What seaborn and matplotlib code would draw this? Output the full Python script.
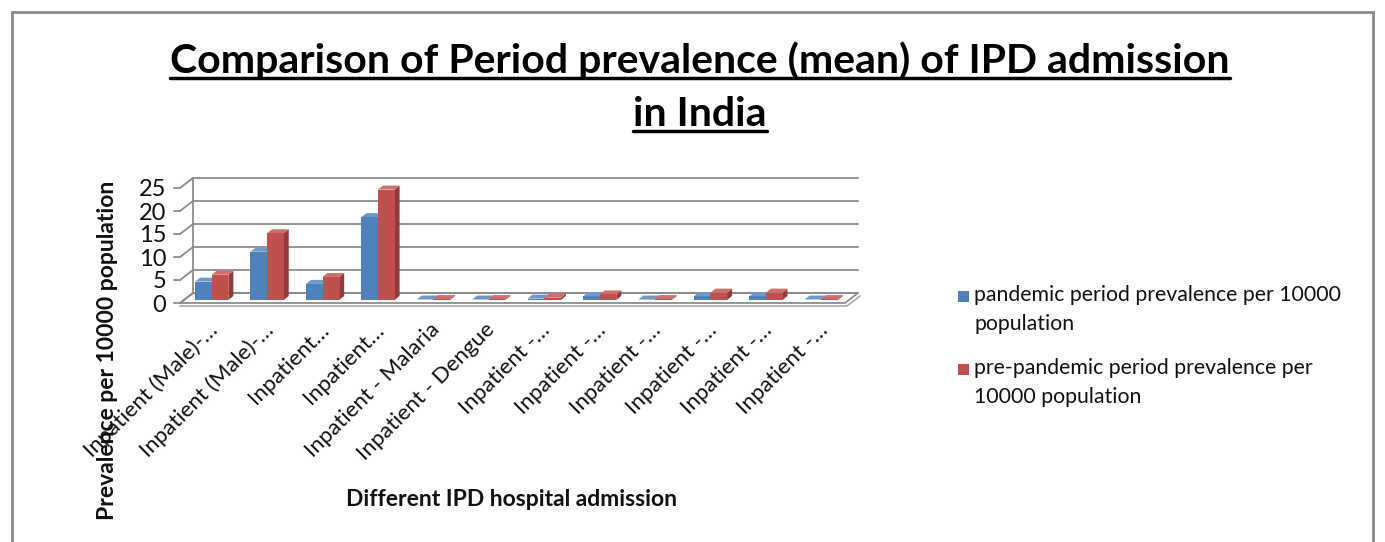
import numpy as np
import pandas as pd
import matplotlib
matplotlib.use("Agg")
import matplotlib.pyplot as plt
import seaborn as sns
from matplotlib.patches import Polygon, Rectangle
from matplotlib.lines import Line2D

categories = ["Inpatient (Male)-…", "Inpatient (Male)- …", "Inpatient…", "Inpatient …",
              "Inpatient - Malaria", "Inpatient - Dengue", "Inpatient -…", "Inpatient - …",
              "Inpatient  -…", "Inpatient  - …", "Inpatient   -…", "Inpatient   - …"]
tick_labels = ["Inpatient (Male)-…", "Inpatient (Male)-…", "Inpatient…", "Inpatient…",
               "Inpatient - Malaria", "Inpatient - Dengue", "Inpatient -…", "Inpatient -…",
               "Inpatient -…", "Inpatient -…", "Inpatient -…", "Inpatient -…"]
pandemic = [4.0, 10.5, 3.5, 18.0, 0.1, 0.1, 0.3, 0.8, 0.1, 0.8, 0.8, 0.1]
prepandemic = [5.5, 14.5, 5.0, 24.0, 0.2, 0.2, 0.5, 1.2, 0.2, 1.6, 1.6, 0.2]
series = ["pandemic period prevalence per 10000\npopulation",
          "pre-pandemic period prevalence per\n10000 population"]
yticks = [0, 5, 10, 15, 20, 25]

colors = ["#4F81BD", "#C0504D"]
side_colors = ["#3B6699", "#943A38"]
top_colors = ["#6E98CC", "#D06E6B"]
txt = "#111111"

df = pd.DataFrame({
    "category": categories * 2,
    "value": pandemic + prepandemic,
    "series": [series[0]] * len(categories) + [series[1]] * len(categories),
})

sns.set_style("white")
plt.rcParams["font.family"] = ["Lato", "DejaVu Sans"]

W, H = 1385, 542
fig = plt.figure(figsize=(W / 100, H / 100), dpi=100)
ax_left, ax_right, ax_bottom, ax_top = 180, 845, 303, 188
ax = fig.add_axes([ax_left / W, 1 - ax_bottom / H, (ax_right - ax_left) / W, (ax_bottom - ax_top) / H])

sns.barplot(data=df, x="category", y="value", hue="series", palette=colors,
            width=0.6, dodge=True, saturation=1, ax=ax, legend=False, errorbar=None)
ax.set_xlim(-0.5, len(categories) - 0.5)
ax.set_ylim(0, 25)

xpp = (len(categories)) / (ax_right - ax_left)
ypp = 25.0 / (ax_bottom - ax_top)

wall_dx, wall_dy = 13, 10
bar_dx, bar_dy = 5, 4
front_dx, front_dy = 4, 3

gc = "#8C8C8C"
x0, x1 = -0.5, len(categories) - 0.5
for t in yticks:
    ax.add_line(Line2D([x0, x0 + wall_dx * xpp], [t, t + wall_dy * ypp],
                       color=gc, lw=1.3, clip_on=False))
    ax.add_line(Line2D([x0 + wall_dx * xpp, x1 + wall_dx * xpp], [t + wall_dy * ypp] * 2,
                       color=gc, lw=1.3, clip_on=False))
    ax.add_line(Line2D([x0 - 6 * xpp, x0], [t, t], color=gc, lw=1.3, clip_on=False))
ax.add_line(Line2D([x0 + wall_dx * xpp] * 2, [wall_dy * ypp, 25 + wall_dy * ypp],
                   color=gc, lw=1.3, clip_on=False))
floor = Polygon([(x0, 0), (x1, 0), (x1 + wall_dx * xpp, wall_dy * ypp),
                 (x0 + wall_dx * xpp, wall_dy * ypp)], closed=True, fill=False,
                edgecolor=gc, lw=1.3, clip_on=False)
ax.add_patch(floor)
ax.add_line(Line2D([x0, x1 + 2 * xpp, x1 + (wall_dx + 2) * xpp],
                   [-3 * ypp, -3 * ypp, (wall_dy - 3) * ypp], color="#B0B0B0", lw=1.3, clip_on=False))

for ci, cont in enumerate(ax.containers):
    for p in cont.patches:
        x, w, h = p.get_x(), p.get_width(), p.get_height()
        fx, fy = front_dx * xpp, front_dy * ypp
        p.set_x(x + fx)
        p.set_y(fy)
        p.set_edgecolor("none")
        p.set_zorder(3)
        bx, by = bar_dx * xpp, bar_dy * ypp
        xl, xr, yt = x + fx, x + fx + w, fy + h
        side = Polygon([(xr, fy), (xr + bx, fy + by), (xr + bx, yt + by), (xr, yt)],
                       closed=True, facecolor=side_colors[ci], edgecolor="none", zorder=2.9,
                       clip_on=False)
        top = Polygon([(xl, yt), (xr, yt), (xr + bx, yt + by), (xl + bx, yt + by)],
                      closed=True, facecolor=top_colors[ci], edgecolor="none", zorder=2.9,
                      clip_on=False)
        ax.add_patch(side)
        ax.add_patch(top)
        p.set_clip_on(False)

for s in ax.spines.values():
    s.set_visible(False)
ax.set_yticks(yticks)
ax.set_yticklabels([str(t) for t in yticks], fontsize=17, color=txt)
ax.tick_params(axis="y", length=0, pad=10)
ax.set_xticks(range(len(categories)))
ax.set_xticklabels(tick_labels, rotation=45, ha="right", rotation_mode="anchor",
                   fontsize=16, color=txt)
ax.tick_params(axis="x", length=0, pad=12)
ax.set_xlabel("")
ax.set_ylabel("")
ax.grid(False)

fig.text(108 / W, 1 - 350 / H, "Prevalence per 10000 population", rotation=90,
         ha="center", va="center", fontsize=16.5, fontweight="bold", color=txt)
fig.text(512 / W, 1 - 500 / H, "Different IPD hospital admission", ha="center", va="center",
         fontsize=16.5, fontweight="bold", color=txt)

t1 = fig.text(700 / W, 1 - 61 / H, "Comparison of Period prevalence (mean) of IPD admission",
              ha="center", va="center", fontsize=29.5, fontweight="bold", color="#000000")
t2 = fig.text(700 / W, 1 - 114 / H, "in India", ha="center", va="center",
              fontsize=29.5, fontweight="bold", color="#000000")

leg_x, leg_y = 958, 296
leg_gap = 73
for i, (lab, c) in enumerate(zip(series, colors)):
    y = leg_y + i * leg_gap
    fig.add_artist(Rectangle((leg_x / W, 1 - (y + 6) / H), 11 / W, 11 / H,
                             transform=fig.transFigure, facecolor=c, edgecolor="none"))
    fig.text((leg_x + 16) / W, 1 - (y - 11) / H, lab, ha="left", va="top",
             fontsize=15.3, color=txt, linespacing=1.55)

fig.add_artist(Rectangle((12 / W, -0.05), (1373 - 12) / W, 1 - 12 / H + 0.05,
                         transform=fig.transFigure, fill=False, edgecolor="#8C8C8C", lw=2))

fig.canvas.draw()
r = fig.canvas.get_renderer()
for t in (t1, t2):
    bb = t.get_window_extent(r)
    yy = bb.y0 + 2
    fig.add_artist(Line2D([bb.x0 / W, bb.x1 / W], [yy / H, yy / H], transform=fig.transFigure,
                          color="#000000", lw=2.5))

fig.savefig("out.png", dpi=100)
